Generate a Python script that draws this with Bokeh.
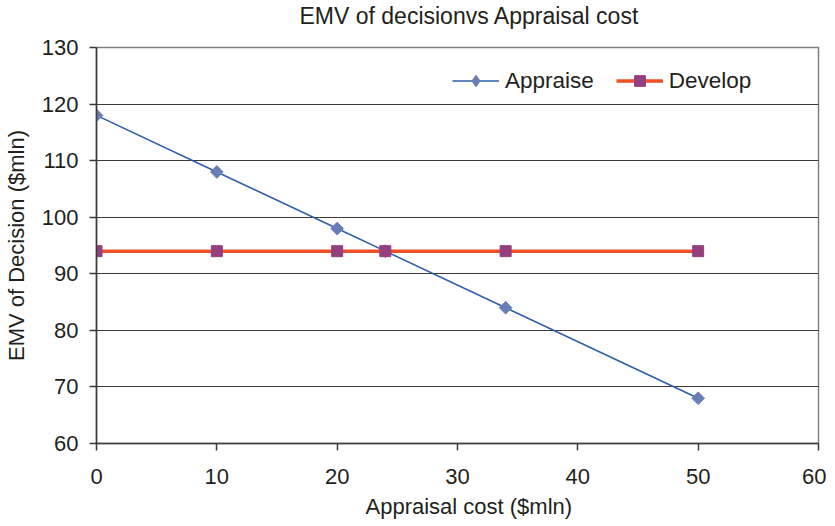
import numpy as np
from bokeh.plotting import figure
from bokeh.models import Range1d, Legend, LegendItem, FixedTicker, Title
from bokeh.embed import file_html
from bokeh.resources import INLINE

appraisal_cost = [0, 10, 20, 24, 34, 50]
appraise_emv = [118, 108, 98, 94, 84, 68]
develop_emv = [94, 94, 94, 94, 94, 94]
x_ticks = [0, 10, 20, 30, 40, 50, 60]
y_ticks = [60, 70, 80, 90, 100, 110, 120, 130]

FONT = "Liberation Sans"
TXT = "#231f20"
FS = "22px"

p = figure(width=826, height=526, output_backend="svg", toolbar_location=None,
           title=None,
           x_range=Range1d(0, 60), y_range=Range1d(60, 130),
           min_border_left=95, min_border_right=8, min_border_top=47, min_border_bottom=83)

# spacer between frame and the chart title
p.add_layout(Title(text=" ", text_font_size="2px", standoff=15), "above")
p.add_layout(Title(text="EMV of decisionvs Appraisal cost", align="left", offset=203,
                   standoff=0, text_font=FONT, text_font_size="23px",
                   text_font_style="normal", text_color=TXT), "above")

p.outline_line_color = "#7f7f7f"
p.outline_line_width = 1.5
p.xgrid.visible = False
p.ygrid.ticker = FixedTicker(ticks=y_ticks)
p.ygrid.grid_line_color = "#3a3a3a"
p.ygrid.grid_line_width = 1

p.xaxis.ticker = FixedTicker(ticks=x_ticks)
p.yaxis.ticker = FixedTicker(ticks=y_ticks)
for ax in (p.xaxis[0], p.yaxis[0]):
    ax.axis_line_color = "#3a3a3a"
    ax.axis_line_width = 1.5
    ax.major_tick_line_color = "#3a3a3a"
    ax.major_tick_line_width = 1.5
    ax.major_tick_in = 0
    ax.major_tick_out = 7
    ax.minor_tick_line_color = None
    ax.major_label_text_font = FONT
    ax.major_label_text_font_size = FS
    ax.major_label_text_color = TXT
    ax.axis_label_text_font = FONT
    ax.axis_label_text_font_size = FS
    ax.axis_label_text_font_style = "normal"
    ax.axis_label_text_color = TXT
p.xaxis.major_label_standoff = 18
p.yaxis.major_label_standoff = 11
p.yaxis.axis_label = "EMV of Decision ($mln)"
p.yaxis.axis_label_standoff = 10

p.add_layout(Title(text="Appraisal cost ($mln)", align="left", offset=269, standoff=10,
                   text_font=FONT, text_font_size=FS, text_font_style="normal",
                   text_color=TXT), "below")

l1 = p.line(appraisal_cost, appraise_emv, line_color="#2b5caa", line_width=1.5)
s1 = p.scatter(appraisal_cost, appraise_emv, marker="square", angle=np.pi / 4,
               size=9, fill_color="#6a7db6", line_color="#6a7db6")
l2 = p.line(appraisal_cost, develop_emv, line_color="#ee4f26", line_width=3.5)
s2 = p.scatter(appraisal_cost, develop_emv, marker="square", size=11,
               fill_color="#953f7f", line_color="#953f7f")
# legend-only swatch for the diamond marker (no data points drawn)
s1_key = p.scatter([np.nan], [np.nan], marker="diamond",
                   fill_color="#6a7db6", line_color="#6a7db6", line_width=1.5)

legend = Legend(items=[LegendItem(label="Appraise", renderers=[l1, s1_key]),
                       LegendItem(label="Develop", renderers=[l2, s2])],
                orientation="horizontal", location=(356, 349),
                glyph_width=47, glyph_height=27, label_height=27,
                label_standoff=6, spacing=22, padding=0, margin=0,
                border_line_color=None, background_fill_alpha=0,
                label_text_font=FONT, label_text_font_size="22.5px", label_text_color=TXT)
p.add_layout(legend)

open("out.html", "w").write(file_html(p, INLINE))
